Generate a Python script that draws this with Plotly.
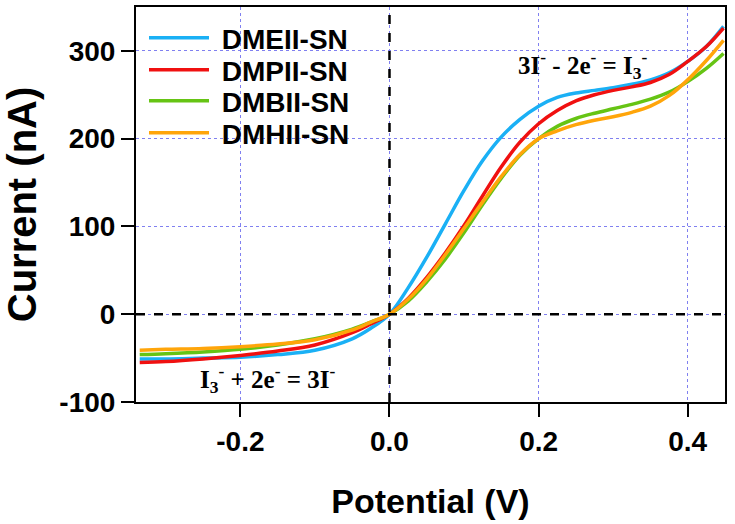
import plotly.graph_objects as go

potential = [-0.335, -0.3, -0.25, -0.2, -0.15, -0.1, -0.05, -0.025, 0.0, 0.025, 0.05, 0.075,
             0.1, 0.125, 0.15, 0.175, 0.2, 0.225, 0.25, 0.275, 0.3, 0.325, 0.35, 0.375,
             0.4, 0.425, 0.448]

dmeii = [-51, -51, -50, -49, -46, -41, -28, -16, 0, 30, 65, 103, 141, 175, 202, 222, 237,
         247, 252, 255, 258, 262, 267, 275, 288, 305, 328]
dmpii = [-55, -54, -51, -47, -42, -35, -21, -11, 0, 18, 42, 70, 101, 135, 168, 196, 217,
         232, 243, 250, 255, 259, 264, 273, 288, 305, 326]
dmbii = [-46, -45, -43, -40, -35, -28, -17, -9, 0, 15, 37, 63, 93, 125, 155, 181, 200,
         214, 223, 229, 234, 239, 245, 253, 265, 280, 297]
dmhii = [-41, -40, -39, -37, -34, -29, -18, -9, 0, 17, 40, 68, 98, 128, 157, 182, 200,
         209, 216, 221, 225, 230, 237, 249, 267, 289, 312]

names = ["DMEII-SN", "DMPII-SN", "DMBII-SN", "DMHII-SN"]
colors = ["#1AB0F5", "#F01010", "#66C414", "#FFA50A"]
series = [dmeii, dmpii, dmbii, dmhii]

x_ticks = [-0.2, 0.0, 0.2, 0.4]
x_labels = ["-0.2", "0.0", "0.2", "0.4"]
y_ticks = [-100, 0, 100, 200, 300]
y_labels = ["-100", "0", "100", "200", "300"]

sans = "Liberation Sans, Arial, sans-serif"
serif = "Liberation Serif, Times New Roman, serif"

legend_ids = ["legend", "legend2", "legend3", "legend4"]
legend_y = [0.9215, 0.8405, 0.762, 0.681]

fig = go.Figure()
for name, col, ys, lid in zip(names, colors, series, legend_ids):
    fig.add_trace(go.Scatter(x=potential, y=ys, mode="lines", name="<b> %s</b>" % name,
                             legend=lid,
                             line=dict(color=col, width=3.5, shape="spline", smoothing=1.0)))

# dashed zero lines
fig.add_shape(type="line", xref="x", yref="paper", x0=0, x1=0, y0=0, y1=1,
              line=dict(color="black", width=2.5, dash="dash"), layer="above")
fig.add_shape(type="line", xref="paper", yref="y", x0=0, x1=1, y0=0, y1=0,
              line=dict(color="black", width=2.5, dash="dash"), layer="above")

fig.add_annotation(x=0.26, y=284, xref="x", yref="y", showarrow=False,
                   text="<b>3I<sup>-</sup> - 2e<sup>-</sup> = I<sub>3</sub><sup>-</sup></b>",
                   font=dict(family=serif, size=25, color="black"))
fig.add_annotation(x=-0.163, y=-74, xref="x", yref="y", showarrow=False,
                   text="<b>I<sub>3</sub><sup>-</sup> + 2e<sup>-</sup> = 3I<sup>-</sup></b>",
                   font=dict(family=serif, size=25, color="black"))

legend_common = dict(xanchor="left", yanchor="middle", bgcolor="rgba(0,0,0,0)",
                     borderwidth=0, itemwidth=60,
                     font=dict(family=sans, size=28, color="black"))
layout_legends = {}
for lid, ly in zip(legend_ids, legend_y):
    layout_legends[lid] = dict(x=0.0136, y=ly, **legend_common)

grid_col = "#8080F0"
fig.update_layout(
    width=735, height=524,
    margin=dict(l=136, r=10, t=7, b=122, autoexpand=False),
    paper_bgcolor="white", plot_bgcolor="white",
    showlegend=True,
    xaxis=dict(range=[-0.34, 0.45], tickvals=x_ticks, ticktext=["<b>%s</b>" % t for t in x_labels],
               ticks="outside", ticklen=13, tickwidth=2, tickcolor="black",
               showline=True, linecolor="black", linewidth=2, mirror=True,
               showgrid=True, gridcolor=grid_col, gridwidth=1, griddash="dot",
               zeroline=False, automargin=False,
               tickfont=dict(family=sans, size=28, color="black"),
               title=dict(text="<b>Potential (V)</b>", standoff=34,
                          font=dict(family=sans, size=34, color="black"))),
    yaxis=dict(range=[-100, 350], tickvals=y_ticks, ticktext=["<b>%s</b>" % t for t in y_labels],
               ticks="outside", ticklen=13, tickwidth=2, tickcolor="black",
               showline=True, linecolor="black", linewidth=2, mirror=True,
               showgrid=True, gridcolor=grid_col, gridwidth=1, griddash="dot",
               zeroline=False, automargin=False,
               tickfont=dict(family=sans, size=28, color="black"),
               title=dict(text="<b>Current (nA)</b>", standoff=10,
                          font=dict(family=sans, size=40, color="black"))),
    **layout_legends,
)

fig.write_html("out.html", config={"displayModeBar": False},
               post_script="document.body.style.margin='0';document.body.style.padding='0';")
